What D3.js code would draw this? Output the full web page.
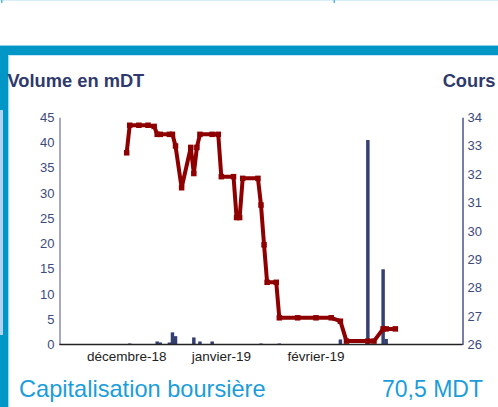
<!DOCTYPE html>
<html>
<head>
<meta charset="utf-8">
<script src="https://cdn.jsdelivr.net/npm/d3@7"></script>
<style>
  body { margin: 0; background: #fff; }
  svg { display: block; font-family: "Liberation Sans", Arial, sans-serif; }
</style>
</head>
<body>
<div id="chart"></div>
<script>
/*### Data ###################################################################*/
var dates = ["2018-12-01","2018-12-02","2018-12-05","2018-12-08","2018-12-10","2018-12-11",
             "2018-12-12","2018-12-15","2018-12-16","2018-12-17","2018-12-19","2018-12-22",
             "2018-12-23","2018-12-24","2018-12-25","2018-12-29","2018-12-31","2019-01-01",
             "2019-01-05","2019-01-06","2019-01-07","2019-01-08","2019-01-13","2019-01-14",
             "2019-01-15","2019-01-16","2019-01-19","2019-01-20","2019-01-26","2019-02-01",
             "2019-02-06","2019-02-09","2019-02-11","2019-02-18","2019-02-20","2019-02-23",
             "2019-02-24","2019-02-27"];
var cours = [32.75,33.72,33.72,33.72,33.68,33.40,
             33.40,33.40,33.40,32.99,31.52,32.94,
             32.02,32.94,33.40,33.40,33.40,31.91,
             31.91,30.47,30.47,31.85,31.85,30.91,
             29.51,28.19,28.19,26.94,26.94,26.94,
             26.94,26.82,26.12,26.12,26.12,26.55,
             26.55,26.55];
var volume = [0,0.2,0,0,0.1,0.6,
              0.4,0.4,2.4,1.65,0,0,
              1.4,0,0.6,0.6,0,0,
              0,0,0,0,0,0.2,
              0,0,0,0.2,0,0,
              0,1.0,0,40.5,0,14.9,
              1.1,0];
var volumeTicks = [0,5,10,15,20,25,30,35,40,45];
var coursTicks  = [26,27,28,29,30,31,32,33,34];
var monthTicks  = ["2018-12-01","2019-01-01","2019-02-01"];
var monthLabels = ["décembre-18","janvier-19","février-19"];
var xDomain     = ["2018-11-09","2019-03-21"];

/*### Layout #################################################################*/
var width = 498, height = 407;
var plot = {left: 59.5, right: 462.5, top: 117.3, bottom: 344.5};
var navy = "#2f3a6c", blue = "#0096c6", red = "#8e0000";

var parse = d3.utcParse("%Y-%m-%d");
var rows = dates.map(function(d, i){
	return {date: parse(d), cours: cours[i], volume: volume[i]};
});

var svg = d3.select("#chart").append("svg")
	.attr("width", width)
	.attr("height", height);

// frame decorations
svg.append("rect").attr("x", 0).attr("y", 0).attr("width", width).attr("height", 1)
	.style("fill", "#d6eef9");
svg.append("rect").attr("x", 1).attr("y", 0).attr("width", 1.5).attr("height", 3).style("fill", "#5bb8e6");
svg.append("rect").attr("x", 333.5).attr("y", 0).attr("width", 1.5).attr("height", 3).style("fill", "#5bb8e6");
svg.append("rect").attr("x", 0).attr("y", 45).attr("width", width).attr("height", 1.5)
	.style("fill", "#8fd0ea");
svg.append("rect").attr("x", 0).attr("y", 46).attr("width", width).attr("height", 9)
	.style("fill", blue);
svg.append("rect").attr("x", 0).attr("y", 46).attr("width", 8.5).attr("height", height - 46)
	.style("fill", blue);
svg.append("rect").attr("x", 0).attr("y", 110).attr("width", 3).attr("height", 225)
	.style("fill", "#b3d1f1");
svg.append("rect").attr("x", 8.5).attr("y", 55).attr("width", 1).attr("height", height - 55)
	.style("fill", "#c4e6f5");
svg.append("rect").attr("x", 8.5).attr("y", 55).attr("width", width).attr("height", 1)
	.style("fill", "#c4e6f5");

// titles
svg.append("text").attr("x", 7.5).attr("y", 87.3)
	.style("font-size", "18.3px").style("font-weight", "bold").style("fill", navy)
	.text("Volume en mDT");
svg.append("text").attr("x", 495.5).attr("y", 87.3).attr("text-anchor", "end")
	.style("font-size", "18.3px").style("font-weight", "bold").style("fill", navy)
	.text("Cours");

/*### Scales #################################################################*/
var x = d3.scaleUtc()
	.domain(xDomain.map(parse))
	.range([plot.left, plot.right]);
var yVol = d3.scaleLinear()
	.domain([0, 45])
	.range([plot.bottom, plot.top]);
var yCours = d3.scaleLinear()
	.domain([26, 34])
	.range([plot.bottom, plot.top]);

var dayWidth = x(parse("2018-12-02")) - x(parse("2018-12-01"));

/*### Axes ###################################################################*/
var leftAxis = svg.append("g")
	.attr("transform", "translate(" + plot.left + ",0)")
	.call(d3.axisLeft(yVol).tickValues(volumeTicks).tickSize(0).tickPadding(5));
leftAxis.select(".domain").style("stroke", "#8a8db0").style("stroke-width", 1.5);

var rightAxis = svg.append("g")
	.attr("transform", "translate(" + plot.right + ",0)")
	.call(d3.axisRight(yCours).tickValues(coursTicks).tickSize(0).tickPadding(5));
rightAxis.select(".domain").style("stroke", "#4a5286").style("stroke-width", 1.5);

svg.selectAll(".tick text")
	.style("font-family", "'Liberation Sans', Arial, sans-serif")
	.style("font-size", "13px")
	.style("fill", "#3c4a7e");

/*### Volume bars ############################################################*/
svg.append("g").selectAll("rect")
	.data(rows.filter(function(d){ return d.volume > 0; }))
	.enter().append("rect")
	.attr("x", function(d){ return x(d.date) - dayWidth / 2 - 0.2; })
	.attr("width", dayWidth + 0.4)
	.attr("y", function(d){ return yVol(d.volume); })
	.attr("height", function(d){ return plot.bottom - yVol(d.volume); })
	.style("fill", "#343f72");

/*### Cours line #############################################################*/
var line = d3.line()
	.x(function(d){ return x(d.date); })
	.y(function(d){ return yCours(d.cours); });

svg.append("path")
	.datum(rows)
	.attr("d", line)
	.style("fill", "none")
	.style("stroke", red)
	.style("stroke-width", 4)
	.style("stroke-linejoin", "round");

svg.append("g").selectAll("rect")
	.data(rows)
	.enter().append("rect")
	.attr("x", function(d){ return x(d.date) - 2.75; })
	.attr("y", function(d){ return yCours(d.cours) - 2.75; })
	.attr("width", 5.5)
	.attr("height", 5.5)
	.style("fill", red);

// bottom axis line + month labels
svg.append("line")
	.attr("x1", plot.left).attr("x2", plot.right)
	.attr("y1", plot.bottom).attr("y2", plot.bottom)
	.style("stroke", "#222").style("stroke-width", 1.5);

svg.append("g").selectAll("text")
	.data(monthTicks)
	.enter().append("text")
	.attr("x", function(d){ return x(parse(d)); })
	.attr("y", 361)
	.attr("text-anchor", "middle")
	.style("font-size", "13.5px")
	.style("fill", "#222")
	.text(function(d, i){ return monthLabels[i]; });

/*### Footer #################################################################*/
svg.append("text").attr("x", 19).attr("y", 397)
	.style("font-size", "23.6px").style("fill", "#1b9ddb")
	.text("Capitalisation boursière");
svg.append("text").attr("x", 483).attr("y", 397).attr("text-anchor", "end")
	.style("font-size", "23px").style("fill", "#1b9ddb")
	.text("70,5 MDT");
</script>
</body>
</html>
